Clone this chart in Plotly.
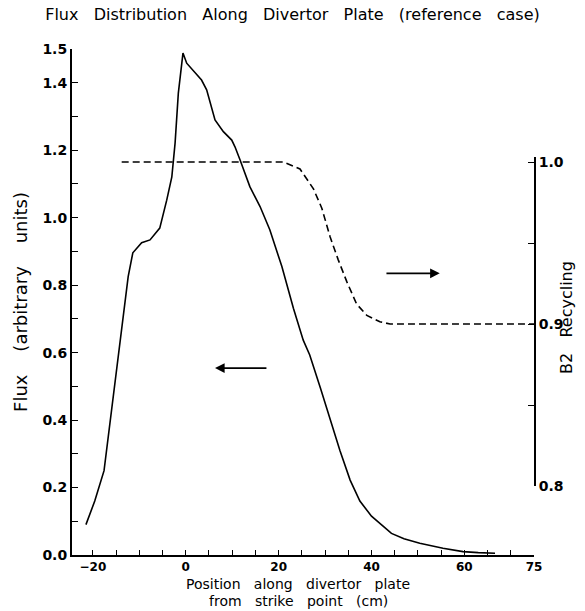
import plotly.graph_objects as go

# ---- data ----
position_flux = [-21.5, -19.6, -17.6, -16.3, -15.0, -13.5, -12.4, -11.4, -9.5, -7.7,
                 -5.6, -4.1, -3.0, -2.3, -1.6, -0.6, 0.2, 3.4, 4.5, 6.3, 8.1, 9.9,
                 10.6, 11.7, 13.8, 16.0, 18.1, 20.7, 23.2, 25.3, 26.7, 29.0, 31.1,
                 33.2, 35.4, 37.5, 40.0, 42.0, 44.3, 47.0, 50.4, 55.4, 59.7, 63.0, 66.6]
flux = [0.09, 0.16, 0.25, 0.39, 0.535, 0.70, 0.825, 0.896, 0.926, 0.934,
        0.969, 1.052, 1.121, 1.221, 1.369, 1.488, 1.458, 1.408, 1.379, 1.29, 1.255, 1.23,
        1.21, 1.171, 1.092, 1.033, 0.964, 0.855, 0.731, 0.637, 0.593, 0.495, 0.40,
        0.31, 0.222, 0.16, 0.115, 0.09, 0.064, 0.048, 0.035, 0.02, 0.01, 0.007, 0.005]

position_recycling = [-13.8, 0.0, 10.0, 21.0, 24.6, 27.5, 29.3, 31.1, 32.8, 34.7,
                      36.8, 39.0, 41.8, 44.0, 55.0, 65.0, 75.0]
recycling = [1.0, 1.0, 1.0, 1.0, 0.9957, 0.9834, 0.9715, 0.9537, 0.9399, 0.926,
             0.9123, 0.9053, 0.9014, 0.9, 0.9, 0.9, 0.9]

x_tick_vals = list(range(-20, 80, 5))
x_tick_named = {-20: "\u221220", 0: "0", 20: "20", 40: "40", 60: "60", 75: "75"}
x_tick_text = [x_tick_named.get(v, "") for v in x_tick_vals]

y_tick_vals = [round(0.1 * i, 1) for i in range(16)]
y_tick_named = {0.0: "0.0", 0.2: "0.2", 0.4: "0.4", 0.6: "0.6", 0.8: "0.8",
                1.0: "1.0", 1.2: "1.2", 1.4: "1.4", 1.5: "1.5"}
y_tick_text = [y_tick_named.get(v, "") for v in y_tick_vals]

y2_tick_vals = [0.8, 0.85, 0.9, 0.95, 1.0]
y2_tick_text = ["0.8", "", "0.9", "", "1.0"]

title_text = "Flux Distribution Along Divertor Plate (reference case)"
x_title_lines = ["Position along divertor plate", "from strike point (cm)"]
y_title_text = "Flux (arbitrary units)"
y2_title_text = "B2 Recycling"

FONT = "DejaVu Sans"


def spaced(text, n=3):
    return ("\u00a0" * n).join(text.split(" "))


W, H = 585, 611
L, R, T, B = 72, 51, 49, 56
PW, PH = W - L - R, H - T - B
# right axis: 0.8 at y=486 px, 1.0 at y=162 px (plus a hair of headroom)
Y2_DOMAIN = [(H - B - 486) / PH, (H - B - 162) / PH + 0.003 / 0.2 * (486 - 162) / PH]


def px_to_paper_y(py):
    return (H - B - py) / PH


def px_to_paper_x(px):
    return (px - L) / PW


fig = go.Figure()
fig.add_trace(go.Scatter(x=position_flux, y=flux, mode="lines",
                         line=dict(color="black", width=1.6),
                         xaxis="x", yaxis="y", showlegend=False))
fig.add_trace(go.Scatter(x=position_recycling, y=recycling, mode="lines",
                         line=dict(color="black", width=1.6, dash="7px,4px"),
                         xaxis="x", yaxis="y2", showlegend=False))

# arrows indicating which axis each curve belongs to
fig.add_annotation(x=6.3, y=0.554, ax=17.7, ay=0.554, xref="x", yref="y",
                   axref="x", ayref="y", text="", showarrow=True,
                   arrowhead=2, arrowsize=1.2, arrowwidth=1.6, arrowcolor="black")
fig.add_annotation(x=54.7, y=0.835, ax=42.9, ay=0.835, xref="x", yref="y",
                   axref="x", ayref="y", text="", showarrow=True,
                   arrowhead=2, arrowsize=1.2, arrowwidth=1.6, arrowcolor="black")

# x-axis title: two centred lines under the tick labels
for line_text, py in zip(x_title_lines, [584, 601]):
    fig.add_annotation(text=spaced(line_text), xref="paper", yref="paper",
                       x=px_to_paper_x(298), xanchor="center",
                       y=px_to_paper_y(py), yanchor="middle", showarrow=False,
                       font=dict(size=14, family=FONT))
# right axis title
fig.add_annotation(text=spaced(y2_title_text), textangle=-90,
                   xref="paper", yref="paper", x=px_to_paper_x(566), xanchor="center",
                   y=px_to_paper_y(318), yanchor="middle", showarrow=False,
                   font=dict(size=16, family=FONT))

fig.update_layout(
    width=W, height=H,
    margin=dict(l=L, r=R, t=T, b=B),
    paper_bgcolor="white", plot_bgcolor="rgba(0,0,0,0)",
    hovermode=False,
    font=dict(family=FONT, color="black", size=14),
    title=dict(text=spaced(title_text),
               x=0.5, xanchor="center", y=0.977, yanchor="middle",
               font=dict(size=16, family=FONT)),
    xaxis=dict(range=[-24.5, 75], tickmode="array", tickvals=x_tick_vals,
               ticktext=x_tick_text, ticks="inside", ticklen=5, tickwidth=1.3,
               tickcolor="black", showline=True, linecolor="black", linewidth=2,
               showgrid=False, zeroline=False,
               tickfont=dict(size=12, family=FONT, weight="bold")),
    yaxis=dict(range=[0, 1.5], tickmode="array", tickvals=y_tick_vals,
               ticktext=y_tick_text, ticks="inside", ticklen=6, tickwidth=1.3,
               tickcolor="black", showline=True, linecolor="black", linewidth=2,
               showgrid=False, zeroline=False,
               tickfont=dict(size=14, family=FONT, weight="bold"),
               title=dict(text=spaced(y_title_text, 4),
                          font=dict(size=18, family=FONT), standoff=10)),
    yaxis2=dict(domain=Y2_DOMAIN, range=[0.8, 1.003], anchor="x",
                side="right", tickmode="array", tickvals=y2_tick_vals,
                ticktext=y2_tick_text, ticks="inside", ticklen=6, tickwidth=1.3,
                tickcolor="black", showline=True, linecolor="black", linewidth=2,
                showgrid=False, zeroline=False,
                tickfont=dict(size=14, family=FONT, weight="bold")),
)

# remove the browser's default 8px page margin so the figure sits at the page origin
fig.write_html("out.html", config={"displayModeBar": False},
               post_script="document.body.style.margin='0px';")
